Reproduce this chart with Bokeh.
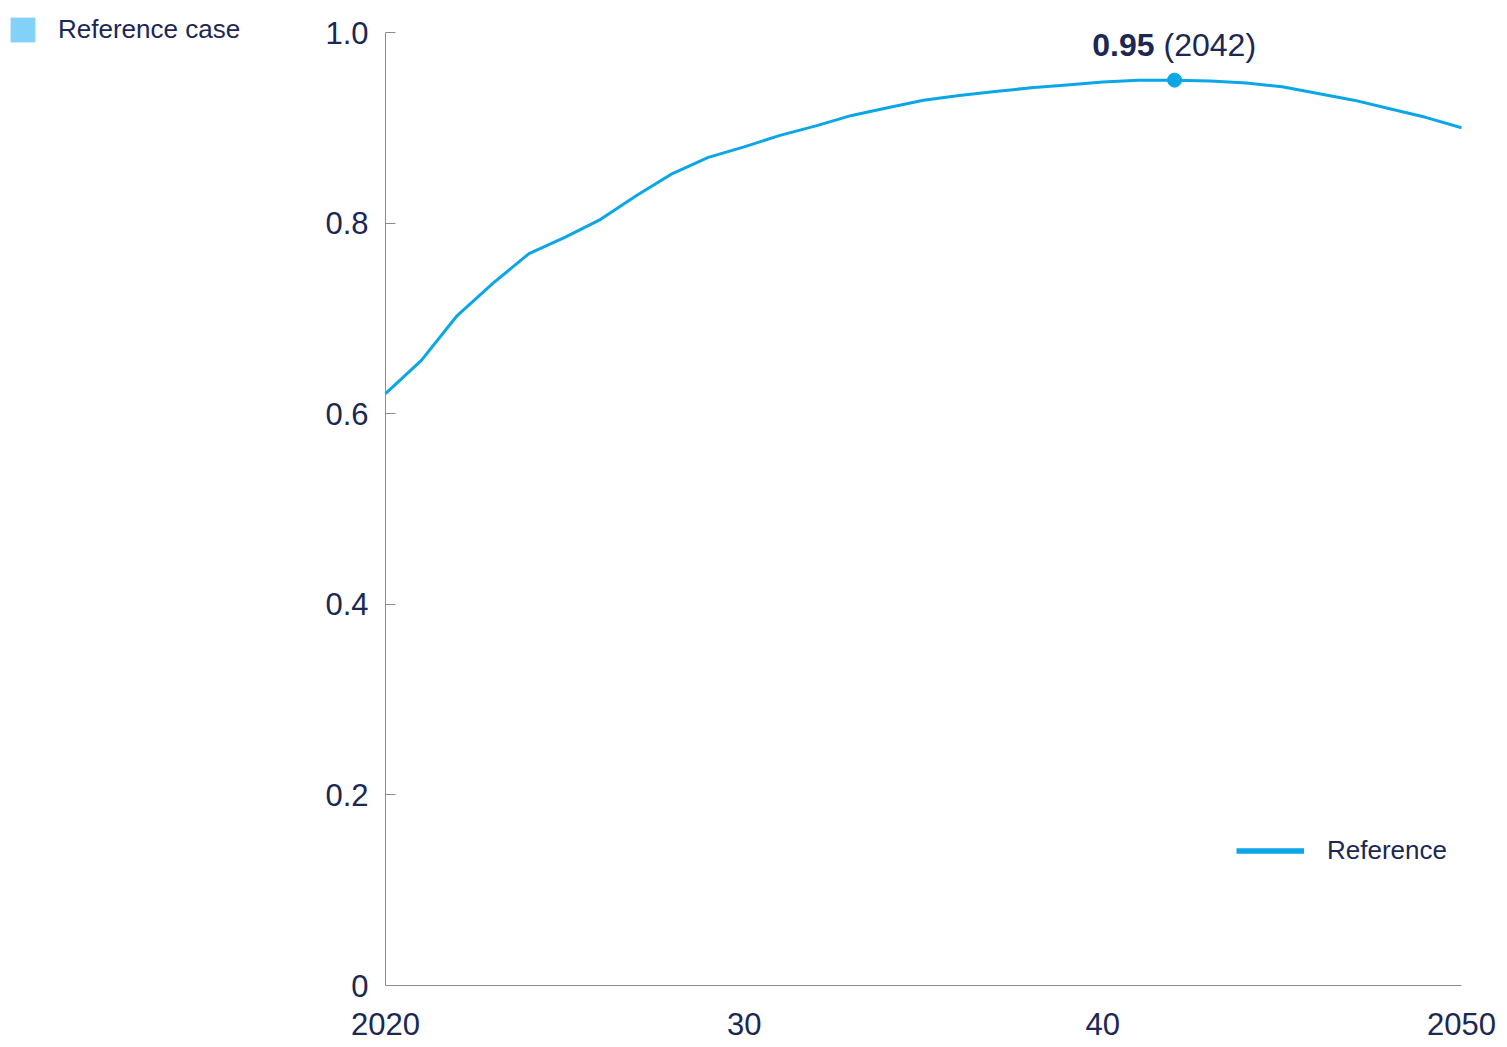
from bokeh.plotting import figure
from bokeh.models import Range1d, FixedTicker, Legend, LegendItem, Label
from bokeh.embed import file_html
from bokeh.resources import INLINE

# Reference-case trajectory, 2020-2050
years = list(range(2020, 2051))
reference = [0.621, 0.656, 0.703, 0.737, 0.768, 0.785, 0.804, 0.829, 0.852, 0.869,
             0.880, 0.892, 0.902, 0.913, 0.921, 0.929, 0.934, 0.938, 0.942, 0.945,
             0.948, 0.950, 0.950, 0.949, 0.947, 0.943, 0.936, 0.929, 0.920, 0.911,
             0.900]

peak_year = 2042
peak_value = 0.95

x_ticks = [2020, 2030, 2040, 2050]
x_tick_labels = ["2020", "30", "40", "2050"]
y_ticks = [0, 0.2, 0.4, 0.6, 0.8, 1.0]
y_tick_labels = ["0", "0.2", "0.4", "0.6", "0.8", "1.0"]

NAVY = "#1b2755"
BLUE = "#0ba6e6"
LIGHT_BLUE = "#82d1f6"
AXIS_GREY = "#8c8c8c"
FONT = "Liberation Sans"

# canvas size and the pixel margins around the axes box
W, H = 1507, 1047
LEFT, RIGHT, TOP, BOTTOM = 385, 46, 32, 62
x0, x1 = years[0], years[-1]
y0, y1 = 0.0, 1.0
px_x = (W - LEFT - RIGHT) / (x1 - x0)
px_y = (H - TOP - BOTTOM) / (y1 - y0)

# the frame spans the whole canvas; axes sit at fixed positions inside it
p = figure(width=W, height=H, output_backend="svg", toolbar_location=None,
           x_range=Range1d(x0 - LEFT / px_x, x1 + RIGHT / px_x),
           y_range=Range1d(y0 - BOTTOM / px_y, y1 + TOP / px_y),
           min_border=0)
p.outline_line_color = None
p.grid.grid_line_color = None
p.background_fill_color = "white"
p.border_fill_color = "white"

p.xaxis.fixed_location = y0
p.yaxis.fixed_location = x0
p.xaxis.bounds = (x0, x1)
p.yaxis.bounds = (y0, y1)
p.xaxis.ticker = FixedTicker(ticks=x_ticks)
p.xaxis.major_label_overrides = {t: s for t, s in zip(x_ticks, x_tick_labels)}
p.yaxis.ticker = FixedTicker(ticks=y_ticks)
p.yaxis.major_label_overrides = {t: s for t, s in zip(y_ticks, y_tick_labels)}
for ax in (p.xaxis, p.yaxis):
    ax.axis_line_color = AXIS_GREY
    ax.axis_line_width = 1
    ax.minor_tick_line_color = None
    ax.major_label_text_font = FONT
    ax.major_label_text_font_size = "31px"
    ax.major_label_text_color = NAVY
p.xaxis.major_tick_line_color = None
p.xaxis.major_label_standoff = 21
p.yaxis.major_tick_line_color = AXIS_GREY
p.yaxis.major_tick_in = 10
p.yaxis.major_tick_out = 0
p.yaxis.major_label_standoff = 17

# main line and peak marker
p.line(years, reference, line_color=BLUE, line_width=3)
p.scatter([peak_year], [peak_value], size=14, marker="circle",
          fill_color=BLUE, line_color=BLUE)

# peak annotation: bold value followed by the year
p.add_layout(Label(x=peak_year, y=peak_value, text=f"{peak_value:.2f}",
                   text_font=FONT, text_font_size="32px", text_font_style="bold",
                   text_color=NAVY, text_align="right", text_baseline="alphabetic",
                   x_offset=-20, y_offset=35))
p.add_layout(Label(x=peak_year, y=peak_value, text=f"({peak_year})",
                   text_font=FONT, text_font_size="32px",
                   text_color=NAVY, text_align="left", text_baseline="alphabetic",
                   x_offset=-11, y_offset=35))

# hidden renderers that only supply the legend swatches
case_r = p.varea(x=years, y1=[0] * len(years), y2=reference,
                 fill_color=LIGHT_BLUE, visible=False)
ref_r = p.line(years, reference, line_color=BLUE, line_width=5.5, visible=False)

leg_case = Legend(items=[LegendItem(label="Reference case", renderers=[case_r])],
                  location=(7, 1002), orientation="horizontal",
                  glyph_width=31, glyph_height=31, label_standoff=20,
                  padding=0, margin=0, border_line_color=None,
                  background_fill_alpha=0,
                  label_text_font=FONT, label_text_font_size="26px",
                  label_text_color=NAVY)
leg_ref = Legend(items=[LegendItem(label="Reference", renderers=[ref_r])],
                 location=(1236, 181), orientation="horizontal",
                 glyph_width=68, glyph_height=29, label_standoff=23,
                 padding=0, margin=0, border_line_color=None,
                 background_fill_alpha=0,
                 label_text_font=FONT, label_text_font_size="26px",
                 label_text_color=NAVY)
p.add_layout(leg_case)
p.add_layout(leg_ref)

open("out.html", "w").write(file_html(p, INLINE))
